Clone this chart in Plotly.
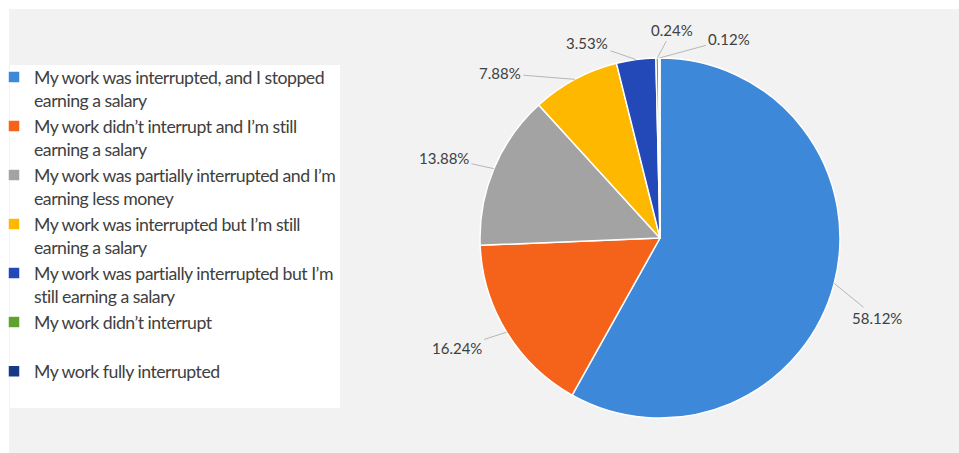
import math
import plotly.graph_objects as go

categories = [
    "My work was interrupted, and I stopped<br>earning a salary",
    "My work didn’t interrupt and I’m still<br>earning a salary",
    "My work was partially interrupted and I’m<br>earning less money",
    "My work was interrupted but I’m still<br>earning a salary",
    "My work was partially interrupted but I’m<br>still earning a salary",
    "My work didn’t interrupt<br> ",
    "My work fully interrupted",
]
values = [58.12, 16.24, 13.88, 7.88, 3.53, 0.24, 0.12]
text_labels = ["58.12%", "16.24%", "13.88%", "7.88%", "3.53%", "0.24%", "0.12%"]
colors = ["#3d88d8", "#f5621a", "#a3a3a3", "#ffb800", "#2348b8", "#5ea22f", "#183a86"]

# label offsets (px) from the slice edge midpoint -- styling only
label_offsets = [(43, 35), (-50, 16), (-50, -11), (-75, -6), (-49, -17), (15, -28), (70, -19)]

# tighten legend letter spacing (style only)
def tight(s):
    return "<br>".join('<span style="letter-spacing:-0.5px">%s</span>' % p for p in s.split("<br>"))

legend_labels = [tight(c) for c in categories]

W, H = 959, 453
cx, cy, r = 660, 238, 180

fig = go.Figure()
fig.add_trace(go.Pie(
    labels=legend_labels,
    values=values,
    textinfo="none",
    sort=False,
    direction="clockwise",
    rotation=0,
    marker=dict(colors=colors, line=dict(color="white", width=1.5)),
    domain=dict(x=[(cx - r) / W, (cx + r) / W], y=[1 - (cy + r) / H, 1 - (cy - r) / H]),
    hoverinfo="percent",
))

# leader-line labels derived from the data (mid-angle of each slice)
total = sum(values)
annotations = []
cum = 0.0
for v, t, (ax, ay) in zip(values, text_labels, label_offsets):
    mid = (cum + v / 2) / total * 2 * math.pi
    cum += v
    ex = cx + r * math.sin(mid)
    ey = cy - r * math.cos(mid)
    annotations.append(dict(
        x=ex / W, y=1 - ey / H, xref="paper", yref="paper",
        text=t, showarrow=True, arrowhead=0, arrowwidth=0.8, arrowcolor="#a6a6a6",
        ax=ax, ay=ay, standoff=0, startstandoff=1,
        font=dict(family="Lato", size=15, color="#404040"),
    ))

fig.update_layout(
    width=W, height=H,
    margin=dict(l=0, r=0, t=0, b=0, autoexpand=False),
    paper_bgcolor="white",
    showlegend=True,
    legend=dict(
        x=-6 / W, y=1 - 59 / H, xanchor="left", yanchor="top",
        bgcolor="rgba(0,0,0,0)",
        font=dict(family="Lato", size=17.7, color="#404040"),
        valign="top",
        itemwidth=30,
    ),
    annotations=annotations,
    shapes=[
        dict(type="rect", xref="paper", yref="paper", x0=9 / W, x1=1, y0=0, y1=1 - 9 / H,
             fillcolor="#f2f2f2", line=dict(width=0), layer="below"),
        dict(type="rect", xref="paper", yref="paper", x0=10 / W, x1=340 / W,
             y0=1 - 408 / H, y1=1 - 65 / H,
             fillcolor="white", line=dict(width=0), layer="below"),
    ],
)

fig.write_html(
    "out.html",
    config={"displayModeBar": False},
    post_script="document.body.style.margin='0';document.body.style.overflow='hidden';",
)
